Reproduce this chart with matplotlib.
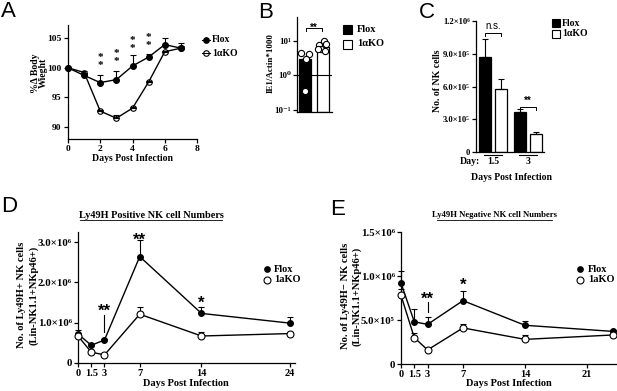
import matplotlib

matplotlib.use("Agg")
import matplotlib.pyplot as plt
import matplotlib.transforms as mtransforms
from matplotlib.lines import Line2D
from matplotlib.patches import Rectangle
from matplotlib.ticker import NullLocator

W, H = 617, 391

# ---- A: body weight
a_days = [0, 1, 2, 3, 4, 5, 6, 7]
a_flox = [100, 98.7, 97.5, 98.0, 100.3, 101.8, 103.9, 103.3]
a_flox_err = [0, 0.2, 1.3, 1.5, 1.8, 0.6, 1.1, 0.8]
a_ko = [100, 99.2, 92.7, 91.5, 93.2, 97.6, 102.7, 103.3]
a_ko_err = [0, 0.2, 0.2, 0.5, 0.2, 0.2, 0.2, 0.4]
a_star_days = [2, 3, 4, 5]
a_star_top = [102.45, 103.1, 105.3, 105.8]

# ---- B: IE1 / actin
b_means = [2.9, 6.7]
b_flox_pts = [4.5, 4.2, 3.0, 0.35]
b_ko_pts = [7.8, 9.6, 8.0, 6.0, 5.2, 5.8]

# ---- C: NK cells
c_days = ["1.5", "3"]
c_flox = [8.7e5, 3.66e5]
c_flox_err = [1.65e5, 0.25e5]
c_ko = [5.77e5, 1.65e5]
c_ko_err = [0.93e5, 0.15e5]

# ---- D: Ly49H+ NK cells
d_days = [0, 1.5, 3, 7, 14, 24]
d_flox = [0.72e6, 0.44e6, 0.57e6, 2.64e6, 1.23e6, 0.99e6]
d_flox_err = [0.09e6, 0.03e6, 0.03e6, 0.42e6, 0.15e6, 0.15e6]
d_ko = [0.67e6, 0.27e6, 0.20e6, 1.21e6, 0.67e6, 0.73e6]
d_ko_err = [0.03e6, 0.02e6, 0.02e6, 0.19e6, 0.10e6, 0.03e6]

# ---- E: Ly49H- NK cells
e_days = [0, 1.5, 3, 7, 14, 24]
e_flox = [0.92e6, 0.48e6, 0.45e6, 0.72e6, 0.44e6, 0.37e6]
e_flox_err = [0.14e6, 0.14e6, 0.08e6, 0.11e6, 0.05e6, 0.02e6]
e_ko = [0.78e6, 0.30e6, 0.16e6, 0.41e6, 0.28e6, 0.33e6]
e_ko_err = [0.07e6, 0.05e6, 0.01e6, 0.04e6, 0.05e6, 0.01e6]

SERIF = ["Liberation Serif", "DejaVu Serif"]
SANS = ["Liberation Sans", "DejaVu Sans"]
plt.rcParams.update({
    "font.family": SERIF, "font.weight": "bold", "font.size": 6.5,
    "axes.linewidth": 0.9, "xtick.major.width": 0.9, "ytick.major.width": 0.9,
    "xtick.major.size": 3, "ytick.major.size": 3,
    "xtick.labelsize": 6.8, "ytick.labelsize": 6.8,
    "xtick.major.pad": 1.5, "ytick.major.pad": 1.5,
})

fig = plt.figure(figsize=(W / 100, H / 100), dpi=100)


def rect(l, t, r, b):
    return [l / W, 1 - b / H, (r - l) / W, (b - t) / H]


def fx(x):
    return x / W


def fy(y):
    return 1 - y / H


def style(ax):
    ax.spines["top"].set_visible(False)
    ax.spines["right"].set_visible(False)
    ax.tick_params(direction="out")


def star(ax, x, y, txt, size, family=SANS):
    # put the glyph centre (not the baseline) on (x, y)
    tr = mtransforms.offset_copy(ax.transData, fig=fig, y=-0.58 * size, units="points")
    ax.text(x, y, txt, transform=tr, ha="center", va="baseline",
            fontsize=size, family=family, fontweight="bold", clip_on=False)


def leg_marker(x, y, face, ms=4, line=False):
    if line:
        fig.add_artist(Line2D([fx(x - 4), fx(x + 4)], [fy(y), fy(y)], color="k", lw=0.8))
    fig.add_artist(Line2D([fx(x)], [fy(y)], marker="o", ms=ms, mfc=face, mec="k", mew=0.8, ls="none"))


def leg_box(x, y, face, s=9):
    fig.add_artist(Rectangle((fx(x - s / 2), fy(y + s / 2)), s / W, s / H,
                             transform=fig.transFigure, fc=face, ec="k", lw=0.8))


def ylab(x, y, txt, size=6.5):
    fig.text(fx(x), fy(y), txt, rotation=90, ha="center", va="center", fontsize=size)


def underlined_title(x, y, txt, x0, x1, size):
    fig.text(fx(x), fy(y), txt, ha="center", va="center", fontsize=size)
    fig.add_artist(Line2D([fx(x0), fx(x1)], [fy(y + 5), fy(y + 5)], color="k", lw=0.6))


def panel_letter(x, y, s):
    fig.text(fx(x), fy(y), s, family=SANS, fontweight="normal", fontsize=16, va="baseline")


# ------------------------------------------------------------------ A
ax = fig.add_axes(rect(68, 25, 197, 139))
style(ax)
ax.errorbar(a_days, a_flox, yerr=[[0] * 8, a_flox_err], fmt="none", ecolor="k", elinewidth=0.8, capsize=2, capthick=0.8)
ax.errorbar(a_days, a_ko, yerr=[[0] * 8, a_ko_err], fmt="none", ecolor="k", elinewidth=0.8, capsize=2, capthick=0.8)
ax.plot(a_days, a_flox, "-o", color="k", lw=1.0, ms=4, mfc="k", clip_on=False, zorder=4)
ax.plot(a_days, a_ko, "-o", color="k", lw=1.0, ms=4, mfc="none", mew=0.8, clip_on=False, zorder=4)
for d, t in zip(a_star_days, a_star_top):
    star(ax, d, t, "*", 8, SERIF)
    star(ax, d, t - 1.35, "*", 8, SERIF)
ax.set_xlim(0, 8)
ax.set_ylim(88, 107.2)
ax.set_xticks([0, 2, 4, 6, 8])
ax.set_yticks([90, 95, 100, 105])
fig.text(fx(132), fy(158), "Days Post Infection", ha="center", va="center", fontsize=7)
ylab(35, 73, "%Δ Body", 7)
ylab(43, 73, "Wieght", 7)
leg_marker(206, 40, "k", line=True)
leg_marker(206, 53, "none", line=True)
fig.text(fx(212), fy(40), "Flox", va="center", fontsize=7)
fig.text(fx(212), fy(53), "1αKO", va="center", fontsize=7)

# ------------------------------------------------------------------ B
ax = fig.add_axes(rect(297, 17, 332, 112))
style(ax)
ax.set_yscale("log")
ax.bar([0, 1], [m - 0.088 for m in b_means], bottom=0.088, width=0.67,
       color=["k", "white"], edgecolor="k", lw=0.9, zorder=2)
ax.axhline(1, color="k", lw=0.8, zorder=3)
flox_jit = [-0.24, 0.24, 0.06, 0.0]
ko_jit = [-0.22, 0.06, 0.17, -0.11, 0.11, -0.28]
ax.plot([0 + j for j in flox_jit], b_flox_pts, "o", ms=4.5, mfc="white", mec="k", mew=0.8, zorder=4, clip_on=False)
ax.plot([1 + j for j in ko_jit], b_ko_pts, "o", ms=4.5, mfc="white", mec="k", mew=0.8, zorder=4, clip_on=False)
ax.plot([0.05, 0.05, 0.95, 0.95], [19, 23.5, 23.5, 19], color="k", lw=0.7, clip_on=False)
star(ax, 0.5, 29, "**", 7)
ax.set_xlim(-0.44, 1.5)
ax.set_ylim(0.088, 49)
ax.set_xticks([])
ax.set_yticks([0.1, 1, 10])
ax.set_yticklabels(["10⁻¹", "10⁰", "10¹"], fontsize=6.5)
ax.yaxis.set_minor_locator(NullLocator())
ylab(271, 63, "IE1/Actin*1000")
leg_box(347, 29, "k")
leg_box(347, 44, "white")
fig.text(fx(357), fy(29), "Flox", va="center", fontsize=7.5)
fig.text(fx(357), fy(44), "1αKO", va="center", fontsize=7.5)

# ------------------------------------------------------------------ C
ax = fig.add_axes(rect(476, 21, 544, 152))
style(ax)
g = [0, 1]
off, bw = 0.23, 0.34
ax.bar([x - off for x in g], c_flox, width=bw, color="k", edgecolor="k", lw=0.9)
ax.bar([x + off for x in g], c_ko, width=bw, color="white", edgecolor="k", lw=0.9)
ax.errorbar([x - off for x in g], c_flox, yerr=[[0, 0], c_flox_err], fmt="none", ecolor="k", elinewidth=0.8, capsize=2, capthick=0.8)
ax.errorbar([x + off for x in g], c_ko, yerr=[[0, 0], c_ko_err], fmt="none", ecolor="k", elinewidth=0.8, capsize=2, capthick=0.8)
ax.plot([-off, -off, off, off], [1.06e6, 1.09e6, 1.09e6, 1.06e6], color="k", lw=0.7)
ax.text(0, 1.11e6, "n.s.", ha="center", va="bottom", family=SANS, fontweight="normal", fontsize=7)
ax.plot([1 - off, 1 - off, 1 + off, 1 + off], [3.85e5, 4.12e5, 4.12e5, 3.85e5], color="k", lw=0.7)
star(ax, 1, 4.95e5, "**", 7)
ax.set_xlim(-0.49, 1.45)
ax.set_ylim(0, 1.2e6)
ax.set_xticks([])
ax.set_yticks([0, 3e5, 6e5, 9e5, 1.2e6])
ax.set_yticklabels(["0", "3.0×10⁵", "6.0×10⁵", "9.0×10⁵", "1.2×10⁶"], fontsize=6.2)
btr = mtransforms.blended_transform_factory(ax.transData, ax.transAxes)
for x, lab in zip(g, c_days):
    ax.plot([x - 0.25, x + 0.25], [-0.023, -0.023], color="k", lw=0.8, transform=btr, clip_on=False)
    ax.text(x, -0.075, lab, ha="center", va="center", transform=btr, fontsize=7)
ax.text(-0.38, -0.075, "Day:", ha="right", va="center", transform=btr, fontsize=7)
fig.text(fx(511), fy(177), "Days Post Infection", ha="center", va="center", fontsize=7)
ylab(437, 81, "No. of NK cells", 7)
leg_box(556, 23, "k", 7.5)
leg_box(556, 34, "white", 7.5)
fig.text(fx(562), fy(23), "Flox", va="center", fontsize=7)
fig.text(fx(562), fy(34), "1αKO", va="center", fontsize=7)


# ------------------------------------------------------------------ D / E
def time_course(box, days, flox, flox_err, ko, ko_err, xmax, ymax, yticks, ylabels, xticks):
    ax = fig.add_axes(rect(*box))
    style(ax)
    z = [0] * len(days)
    ax.errorbar(days, flox, yerr=[z, flox_err], fmt="none", ecolor="k", elinewidth=0.8, capsize=2, capthick=0.8, clip_on=False)
    ax.errorbar(days, ko, yerr=[z, ko_err], fmt="none", ecolor="k", elinewidth=0.8, capsize=2, capthick=0.8, clip_on=False)
    ax.plot(days, flox, "-o", color="k", lw=1.0, ms=4, mfc="k", clip_on=False, zorder=4)
    ax.plot(days, ko, "-o", color="k", lw=1.0, ms=5, mfc="white", mew=0.8, clip_on=False, zorder=4)
    ax.set_xlim(0, xmax)
    ax.set_ylim(0, ymax)
    ax.set_xticks(xticks)
    ax.set_xticklabels([f"{t:g}" for t in xticks], fontsize=7.5)
    ax.set_yticks(yticks)
    ax.set_yticklabels(ylabels, fontsize=7.8)
    return ax


ax = time_course((78, 232, 295, 363), d_days, d_flox, d_flox_err, d_ko, d_ko_err, 24.6, 3.25e6,
                 [0, 1e6, 2e6, 3e6], ["0", "1.0×10⁶", "2.0×10⁶", "3.0×10⁶"], [0, 1.5, 3, 7, 14, 24])
ax.plot([3, 3], [0.77e6, 1.19e6], color="k", lw=0.8)
star(ax, 3, 1.42e6, "**", 12)
star(ax, 7, 3.17e6, "**", 12)
star(ax, 14, 1.62e6, "*", 12)
underlined_title(151, 215, "Ly49H Positive NK cell Numbers", 80, 222, 7.4)
fig.text(fx(186), fy(383), "Days Post Infection", ha="center", va="center", fontsize=7.5)
ylab(22, 295, "No. of Ly49H+ NK cells", 7.6)
ylab(34, 295, "(Lin-NK1.1+NKp46+)", 7.6)
leg_marker(267, 269, "k")
leg_marker(267, 280, "white", ms=5)
fig.text(fx(274), fy(269), "Flox", va="center", fontsize=7.5)
fig.text(fx(274), fy(280), "1aKO", va="center", fontsize=7.5)

ax = time_course((401, 232, 617, 364), e_days, e_flox, e_flox_err, e_ko, e_ko_err, 24.4, 1.5e6,
                 [0, 5e5, 1e6, 1.5e6], ["0", "5.0×10⁵", "1.0×10⁶", "1.5×10⁶"], [0, 1.5, 3, 7, 14, 21])
ax.plot([3, 3], [0.59e6, 0.71e6], color="k", lw=0.8)
star(ax, 3, 0.80e6, "**", 12)
star(ax, 7, 0.95e6, "*", 12)
underlined_title(495, 215, "Ly49H Negative NK cell Numbers", 437, 552, 6.2)
fig.text(fx(509), fy(383), "Days Post Infection", ha="center", va="center", fontsize=7.5)
ylab(346, 296, "No. of Ly49H− NK cells", 7.6)
ylab(357, 296, "(Lin-NK1.1+NKp46+)", 7.6)
leg_marker(580, 269, "k")
leg_marker(580, 280, "white", ms=5)
fig.text(fx(588), fy(269), "Flox", va="center", fontsize=7.5)
fig.text(fx(588), fy(280), "1aKO", va="center", fontsize=7.5)

panel_letter(1, 17, "A")
panel_letter(258, 18, "B")
panel_letter(419, 18, "C")
panel_letter(1, 212, "D")
panel_letter(330, 215, "E")

fig.savefig("out.png", dpi=100)
